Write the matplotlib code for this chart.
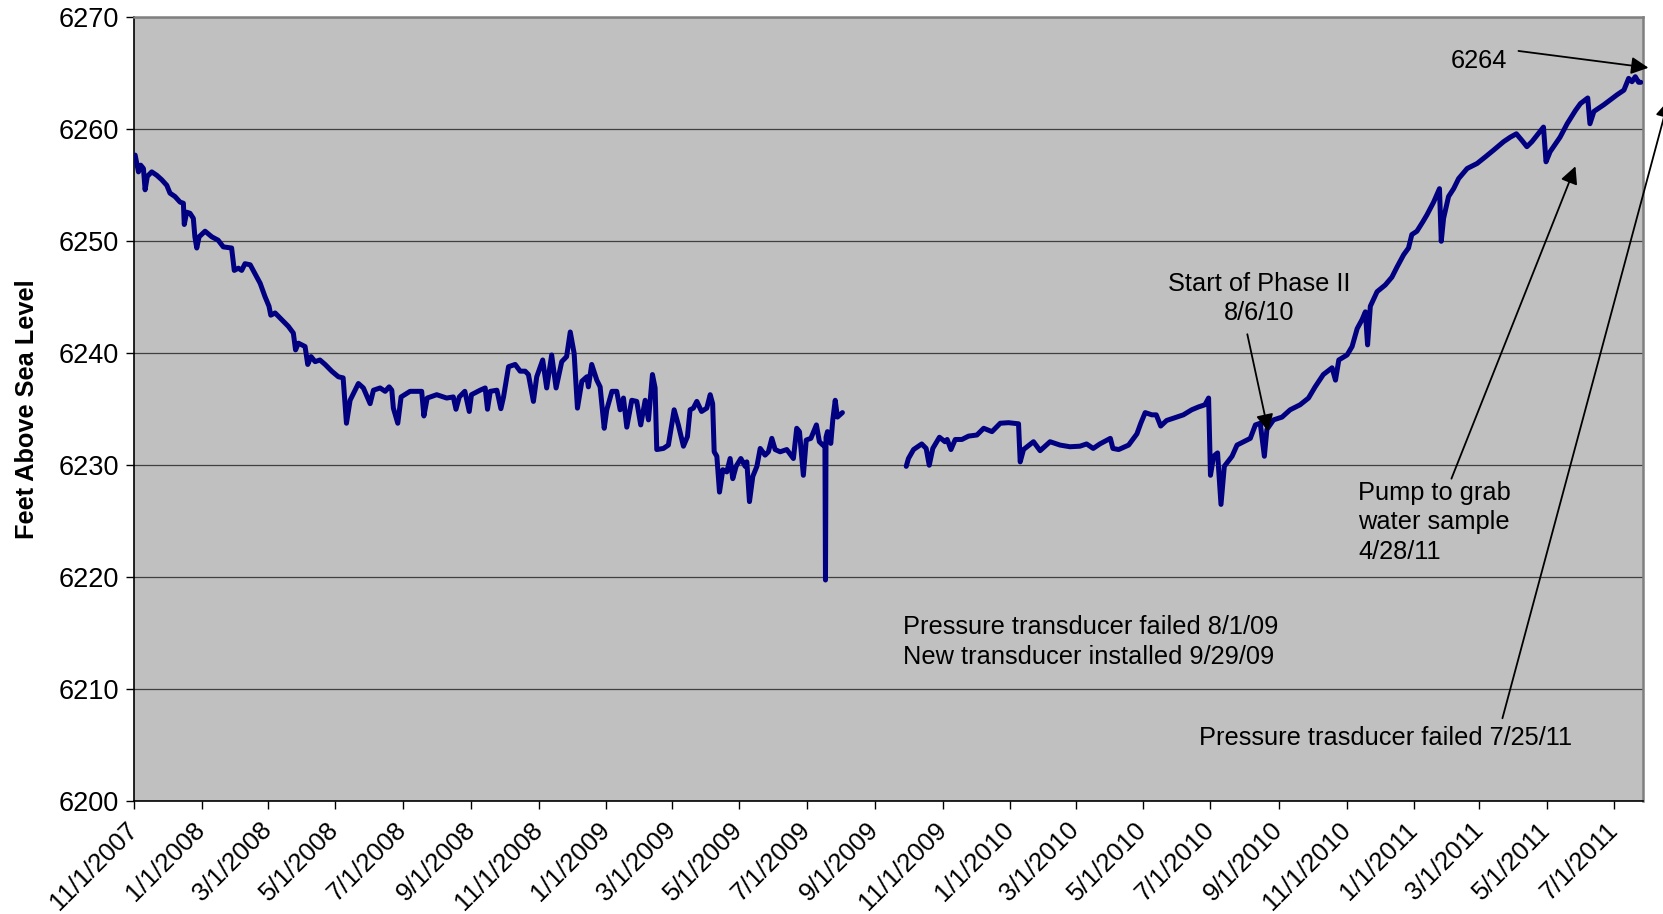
import pandas as pd
import matplotlib
matplotlib.use('Agg')
import matplotlib.pyplot as plt
import numpy as np

plt.rcParams['font.family'] = ['Liberation Sans', 'DejaVu Sans']

# data: days after 11/1/2007 and water level (ft above sea level)
start = pd.Timestamp('2007-11-01')

# first transducer (until it failed 8/1/09)
days_a = [1, 4, 6, 8.5, 10, 12, 16, 20.5, 25, 29.6, 32.5, 37, 41.6, 44.6, 45.4, 47.6, 50.6, 53.6,
          55, 56.7, 58.8, 64.2, 70.3, 76, 80.7, 88.2, 90.6, 94.3, 97.3, 100.3, 105, 109.4, 114,
          118.4, 122, 123.6, 127.5, 133.5, 139.5, 144, 146, 148.6, 154.6, 157, 160, 163.7, 168,
          172.7, 178.7, 184.7, 189, 192, 195.3, 202.8, 207.3, 213.4, 216.4, 222.4, 227, 230.6,
          233, 234.4, 238.4, 241.4, 249.5, 260, 262, 265, 273.6, 282.6, 288.6, 291, 294, 299,
          303, 305, 312.8, 317.4, 319.5, 322, 328, 331.6, 334, 338.5, 344.5, 349, 353.5, 356.5,
          361, 364, 369.4, 373, 377.5, 381.5, 386.6, 391, 394.3, 397.8, 400.8, 404.8, 409.3,
          410.7, 413.7, 418.3, 421.3, 425, 427.3, 432, 436.3, 439.4, 442.4, 445.4, 449.9, 454.4,
          458, 462, 465, 468.6, 471, 472.5, 478.5, 483, 488.2, 492, 496.6, 500.2, 502.6, 505.6,
          508.7, 513, 517.7, 520.8, 523, 524.4, 526.8, 529.2, 532.2, 535.8, 538.8, 541.2, 544.2,
          548.5, 552.4, 553.9, 556.3, 559.3, 563, 566, 570.4, 573.4, 576.5, 579.5, 584, 590, 596,
          599, 601.5, 605, 607.6, 611.8, 616.8, 619.5, 622.6, 624.5, 625, 625.5, 626.8, 629.8,
          631.6, 633.8, 635.8, 640.3]
level_a = [6257.7, 6256.2, 6256.8, 6256.5, 6254.6, 6255.8, 6256.2, 6255.9, 6255.5, 6255.0, 6254.3,
           6254.0, 6253.5, 6253.4, 6251.5, 6252.6, 6252.5, 6252.05, 6250.4, 6249.4, 6250.4, 6250.9,
           6250.4, 6250.1, 6249.5, 6249.4, 6247.4, 6247.6, 6247.4, 6248.0, 6247.9, 6247.1, 6246.25,
           6245.05, 6244.2, 6243.4, 6243.6, 6243.0, 6242.4, 6241.8, 6240.3, 6240.9, 6240.6, 6239.0,
           6239.7, 6239.25, 6239.4, 6239.0, 6238.4, 6237.9, 6237.8, 6233.75, 6235.8, 6237.3, 6236.9,
           6235.5, 6236.7, 6236.9, 6236.6, 6237.0, 6236.7, 6235.1, 6233.75, 6236.1, 6236.6, 6236.6,
           6234.4, 6236.0, 6236.3, 6236.0, 6236.1, 6235.0, 6236.1, 6236.6, 6234.8, 6236.3, 6236.7,
           6236.9, 6235.0, 6236.6, 6236.7, 6235.05, 6236.1, 6238.8, 6239.0, 6238.4, 6238.4, 6238.1,
           6235.7, 6237.9, 6239.4, 6236.9, 6239.85, 6236.9, 6239.25, 6239.7, 6241.9, 6240.0, 6235.1,
           6237.5, 6237.9, 6237.0, 6239.0, 6237.6, 6237.0, 6233.3, 6234.95, 6236.6, 6236.6, 6234.95,
           6236.0, 6233.4, 6235.8, 6235.7, 6233.6, 6235.8, 6234.05, 6238.1, 6236.9, 6231.4, 6231.5,
           6231.8, 6234.95, 6233.6, 6231.7, 6232.55, 6234.95, 6235.1, 6235.7, 6234.8, 6235.1, 6236.3,
           6235.5, 6231.2, 6230.8, 6227.6, 6229.6, 6229.4, 6230.6, 6228.8, 6229.9, 6230.6, 6229.9,
           6230.3, 6226.75, 6229.0, 6229.9, 6231.5, 6230.9, 6231.2, 6232.4, 6231.4, 6231.2, 6231.4,
           6230.6, 6233.3, 6233.0, 6229.1, 6232.25, 6232.4, 6233.6, 6232.1, 6231.8, 6231.9, 6219.75,
           6232.5, 6233.0, 6231.95, 6234.05, 6235.8, 6234.3, 6234.7]

# new transducer (installed 9/29/09)
days_b = [698, 700, 704.6, 712, 716, 718.8, 722, 728, 733, 735, 738.4, 742.3, 748.3, 754.3, 761.9,
          768, 775.5, 783, 790.5, 799.5, 801, 804, 813, 819, 828, 837, 846, 855, 861, 867, 873,
          882.5, 884.8, 890, 899, 906.5, 910, 914, 920, 924, 928, 933.4, 939.5, 948.5, 956, 962,
          968, 971.3, 973, 975.8, 979.4, 982.5, 985.5, 992.5, 997, 1003, 1009, 1013.6, 1018,
          1021.7, 1024, 1030, 1037.7, 1045, 1054, 1061.6, 1067.6, 1075, 1082.9, 1086, 1089, 1096.5,
          1101, 1105.6, 1110, 1113, 1115, 1117.5, 1123.6, 1131, 1137, 1141.6, 1147.6, 1152, 1155,
          1159.6, 1165, 1168.6, 1174.7, 1180, 1181.6, 1183.7, 1188.2, 1192.8, 1197.3, 1205, 1214,
          1221.6, 1229, 1238, 1244, 1249.5, 1254.6, 1259, 1263.6, 1274, 1276.3, 1280, 1289, 1295.4,
          1303, 1307.4, 1314, 1316, 1319.6, 1328.6, 1340.7, 1346.7, 1351, 1354, 1357, 1360, 1362]
level_b = [6229.9, 6230.6, 6231.4, 6231.9, 6231.5, 6230.0, 6231.5, 6232.5, 6232.1, 6232.3, 6231.4,
           6232.3, 6232.3, 6232.6, 6232.7, 6233.3, 6233.0, 6233.75, 6233.8, 6233.7, 6230.3, 6231.4,
           6232.1, 6231.3, 6232.1, 6231.8, 6231.65, 6231.7, 6231.9, 6231.5, 6231.9, 6232.4, 6231.5,
           6231.4, 6231.8, 6232.8, 6233.75, 6234.7, 6234.5, 6234.5, 6233.5, 6234.0, 6234.2, 6234.5,
           6234.95, 6235.2, 6235.4, 6236.0, 6229.1, 6230.8, 6231.1, 6226.5, 6229.9, 6230.8, 6231.8,
           6232.1, 6232.4, 6233.6, 6233.75, 6230.8, 6233.2, 6234.05, 6234.3, 6234.95, 6235.4, 6236.0,
           6237.0, 6238.1, 6238.7, 6237.6, 6239.4, 6239.85, 6240.6, 6242.2, 6243.0, 6243.7, 6240.75,
           6244.2, 6245.5, 6246.1, 6246.8, 6247.7, 6248.8, 6249.4, 6250.6, 6250.9, 6251.75, 6252.35,
           6253.5, 6254.7, 6250.0, 6252.05, 6254.0, 6254.7, 6255.6, 6256.5, 6256.95, 6257.55, 6258.15,
           6258.9, 6259.3, 6259.6, 6259.0, 6258.45, 6258.9, 6260.2, 6257.1, 6258.0, 6259.3, 6260.5,
           6261.7, 6262.3, 6262.8, 6260.5, 6261.6, 6262.2, 6263.1, 6263.5, 6264.55, 6264.25, 6264.7,
           6264.2, 6264.2]

tick_dates = pd.date_range('2007-11-01', '2011-07-01', freq='2MS')
tick_labels = [f'{d.month}/{d.day}/{d.year}' for d in tick_dates]


def day(d):
    return start + pd.to_timedelta(d, unit='D')


dates_a = day(np.array(days_a))
dates_b = day(np.array(days_b))

fig = plt.figure(figsize=(16.63, 9.14), dpi=100)
ax = fig.add_axes([0.0806, 0.1235, 0.9074, 0.8575])
ax.set_facecolor('#c0c0c0')

ax.plot(dates_a, level_a, color='#000080', lw=3.6, solid_joinstyle='round', solid_capstyle='round', zorder=3)
ax.plot(dates_b, level_b, color='#000080', lw=3.6, solid_joinstyle='round', solid_capstyle='round', zorder=3)

ax.set_ylim(6200, 6270)
ax.set_yticks(np.arange(6200, 6271, 10))
ax.set_xlim(start, pd.Timestamp('2011-07-27'))
ax.set_xticks(tick_dates)
ax.set_xticklabels(tick_labels, rotation=45, ha='right', va='center', rotation_mode='anchor')
ax.tick_params(axis='y', labelsize=19.5, length=6, width=1, color='black', pad=5)
ax.tick_params(axis='x', labelsize=18.5, length=6, width=1, color='black', pad=12)

ax.yaxis.grid(True, color='#404040', lw=0.9)
ax.set_axisbelow(True)

for s in ['left', 'bottom']:
    ax.spines[s].set_color('black')
    ax.spines[s].set_linewidth(1.2)
for s in ['top', 'right']:
    ax.spines[s].set_color('#808080')
    ax.spines[s].set_linewidth(1.8)

ax.set_ylabel('Feet Above Sea Level', fontsize=18.3, fontweight='bold', labelpad=14)

# annotations
arrow = dict(arrowstyle='-|>', color='black', lw=1.3, mutation_scale=26, shrinkA=0, shrinkB=0)
fs = 18.3
ls = 1.3

ax.text(day(1189.9), 6266.1, '6264', fontsize=fs, ha='left', va='center')
ax.annotate('', xy=(day(1368.9), 6265.5), xytext=(day(1251.4), 6267.0),
            arrowprops=arrow, annotation_clip=False)

ax.text(day(1017.2), 6244.9, 'Start of Phase II\n8/6/10', fontsize=fs, ha='center', va='center',
        multialignment='center', linespacing=ls)
ax.annotate('', xy=(day(1025.3), 6233.0), xytext=(day(1006.3), 6241.7),
            arrowprops=arrow, annotation_clip=False)

ax.text(day(1106.3), 6224.9, 'Pump to grab\nwater sample\n4/28/11', fontsize=fs, ha='left', va='center',
        linespacing=ls)
ax.annotate('', xy=(day(1302.9), 6256.7), xytext=(day(1190.8), 6228.8),
            arrowprops=arrow, annotation_clip=False)

ax.text(day(962.4), 6205.6, 'Pressure trasducer failed 7/25/11', fontsize=fs, ha='left', va='center')
ax.annotate('', xy=(day(1387), 6262.6), xytext=(day(1236.9), 6207.4),
            arrowprops=arrow, annotation_clip=False)

ax.text(day(694.8), 6214.2, 'Pressure transducer failed 8/1/09\nNew transducer installed 9/29/09',
        fontsize=fs, ha='left', va='center', linespacing=ls)

fig.savefig('out.png', dpi=100, facecolor='white')
